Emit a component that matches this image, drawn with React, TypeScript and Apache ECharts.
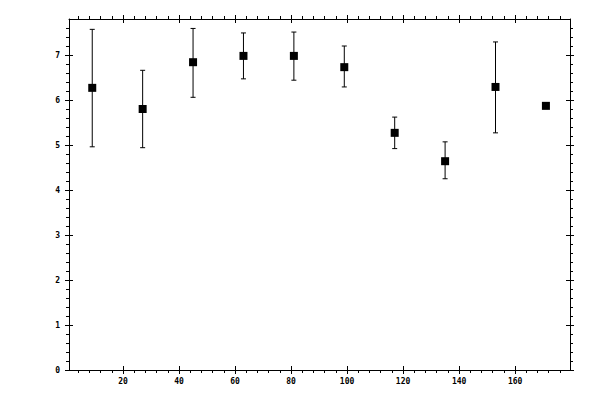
import React, { useEffect, useRef } from 'react';
import * as echarts from 'echarts';

const xValues = [9, 27, 45, 63, 81, 99, 117, 135, 153, 171];
const yValues = [6.27, 5.8, 6.84, 6.98, 6.98, 6.73, 5.27, 4.64, 6.29, 5.87];
const yLow = [4.96, 4.94, 6.06, 6.47, 6.44, 6.29, 4.92, 4.25, 5.27, null];
const yHigh = [7.57, 6.66, 7.59, 7.49, 7.51, 7.2, 5.62, 5.07, 7.29, null];

const xMajorTicks = [20, 40, 60, 80, 100, 120, 140, 160];
const xMinorTicks = [4, 8, 12, 16, 24, 28, 32, 36, 44, 48, 52, 56, 64, 68, 72, 76, 84, 88, 92, 96,
  104, 108, 112, 116, 124, 128, 132, 136, 144, 148, 152, 156, 164, 168, 172, 176];
const yMajorTicks = [0, 1, 2, 3, 4, 5, 6, 7];
const yMinorTicks = [0.2, 0.4, 0.6, 0.8, 1.2, 1.4, 1.6, 1.8, 2.2, 2.4, 2.6, 2.8, 3.2, 3.4, 3.6, 3.8,
  4.2, 4.4, 4.6, 4.8, 5.2, 5.4, 5.6, 5.8, 6.2, 6.4, 6.6, 6.8, 7.2, 7.4, 7.6];

const X_MIN = 0.7;
const X_MAX = 179.6;
const Y_MIN = 0;
const Y_MAX = 7.8;

const labelFont = {
  fontFamily: 'DejaVu Sans Mono',
  fontSize: 8,
  fontWeight: 'bold' as const,
  color: '#000',
};

function makeAxis(
  kind: 'x' | 'y',
  position: string,
  ticks: number[],
  length: number,
  inside: boolean,
  withLine: boolean,
  labels: boolean,
) {
  return {
    type: 'value',
    position,
    min: kind === 'x' ? X_MIN : Y_MIN,
    max: kind === 'x' ? X_MAX : Y_MAX,
    axisLine: { show: withLine, onZero: false, lineStyle: { color: '#000', width: 1 } },
    axisTick: {
      show: true,
      inside,
      length,
      customValues: ticks,
      lineStyle: { color: '#000', width: 1 },
    },
    axisLabel: labels
      ? { show: true, customValues: ticks, margin: kind === 'x' ? 7 : 9, ...labelFont }
      : { show: false },
    splitLine: { show: false },
    minorTick: { show: false },
  };
}

export default function App() {
  const containerRef = useRef<HTMLDivElement | null>(null);

  useEffect(() => {
    if (!containerRef.current) {
      return undefined;
    }
    const chart = echarts.init(containerRef.current, undefined, { renderer: 'svg' });

    const points = xValues.map((x, i) => [x, yValues[i]]);
    const bars = xValues
      .map((x, i) => [x, yLow[i], yHigh[i]])
      .filter(d => d[1] !== null && d[2] !== null);

    chart.setOption({
      animation: false,
      backgroundColor: '#fff',
      grid: { left: 69, right: 30, top: 19, bottom: 30, containLabel: false },
      xAxis: [
        makeAxis('x', 'bottom', xMajorTicks, 4, false, true, true),
        makeAxis('x', 'bottom', xMajorTicks, 4, true, false, false),
        makeAxis('x', 'bottom', xMinorTicks, 3, false, false, false),
        makeAxis('x', 'top', xMajorTicks, 4, false, true, false),
        makeAxis('x', 'top', xMajorTicks, 4, true, false, false),
        makeAxis('x', 'top', xMinorTicks, 3, false, false, false),
      ],
      yAxis: [
        makeAxis('y', 'left', yMajorTicks, 4, false, true, true),
        makeAxis('y', 'left', yMajorTicks, 4, true, false, false),
        makeAxis('y', 'left', yMinorTicks, 3, false, false, false),
        makeAxis('y', 'right', yMajorTicks, 4, false, true, false),
        makeAxis('y', 'right', yMajorTicks, 4, true, false, false),
        makeAxis('y', 'right', yMinorTicks, 3, false, false, false),
      ],
      series: [
        {
          type: 'custom',
          xAxisIndex: 0,
          yAxisIndex: 0,
          data: bars,
          encode: { x: 0, y: [1, 2] },
          renderItem: (_params: any, api: any) => {
            const x = api.value(0);
            const lo = api.coord([x, api.value(1)]);
            const hi = api.coord([x, api.value(2)]);
            const half = 2.5;
            const style = { stroke: '#000', lineWidth: 1 };
            return {
              type: 'group',
              children: [
                { type: 'line', shape: { x1: lo[0], y1: lo[1], x2: hi[0], y2: hi[1] }, style },
                { type: 'line', shape: { x1: hi[0] - half, y1: hi[1], x2: hi[0] + half, y2: hi[1] }, style },
                { type: 'line', shape: { x1: lo[0] - half, y1: lo[1], x2: lo[0] + half, y2: lo[1] }, style },
              ],
            };
          },
          z: 2,
        },
        {
          type: 'scatter',
          xAxisIndex: 0,
          yAxisIndex: 0,
          symbol: 'rect',
          symbolSize: 8,
          itemStyle: { color: '#000', opacity: 1 },
          data: points,
          z: 3,
        },
      ],
    });

    return () => {
      chart.dispose();
    };
  }, []);

  return (
    <div
      ref={containerRef}
      style={{ position: 'absolute', left: 0, top: 0, width: 600, height: 400 }}
    />
  );
}
